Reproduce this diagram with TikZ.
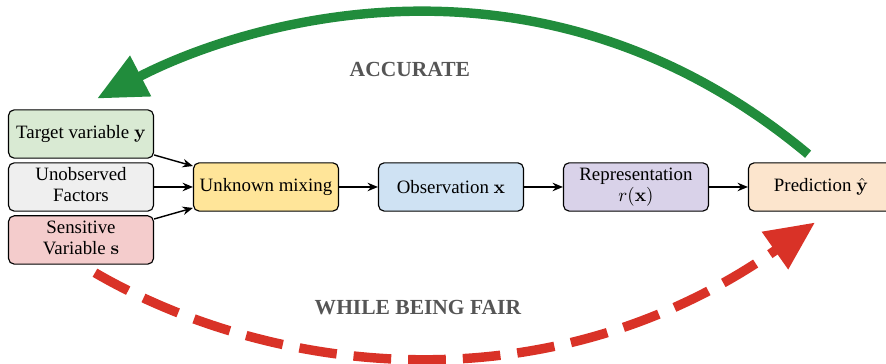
\documentclass[tikz,border=0pt]{standalone}
\usepackage[no-math]{fontspec}
\setmainfont{Liberation Serif}
\usetikzlibrary{arrows.meta,positioning}

\definecolor{targetfill}{HTML}{D9EAD3}
\definecolor{hiddenfill}{HTML}{EFEFEF}
\definecolor{sensitivefill}{HTML}{F4CCCC}
\definecolor{mixingfill}{HTML}{FFE599}
\definecolor{obsfill}{HTML}{CFE2F3}
\definecolor{reprfill}{HTML}{D9D2E9}
\definecolor{predfill}{HTML}{FCE5CD}
\definecolor{accgreen}{HTML}{218C3C}
\definecolor{fairred}{HTML}{D93227}
\definecolor{goalgray}{HTML}{555555}

\begin{document}
\begin{tikzpicture}[>={Stealth[length=5.5pt,width=4.5pt]}, node distance=3.446cm, on grid,
  box/.style={draw, line width=0.6pt, rounded corners=3pt, minimum width=2.7cm, minimum height=0.9cm, inner sep=0pt, font=\fontsize{10}{11}\selectfont},
  goal/.style={text=goalgray, font=\fontsize{11.4}{13}\selectfont\bfseries},
  bigtip/.style={-{Triangle[length=26pt,width=23pt]}, line width=5pt}]
  \useasboundingbox (-4.955,-3.297) rectangle (11.549,3.483);

  \node[box, fill=mixingfill] (mixing) {Unknown mixing};
  \node[box, fill=hiddenfill] (unobserved) [left=of mixing] {\begin{tabular}{c} Unobserved \\ Factors \end{tabular}};
  \node[box, fill=targetfill] (target) [above=0.987cm of unobserved] {Target variable $\mathbf{y}$};
  \node[box, fill=sensitivefill] (sensitive) [below=0.987cm of unobserved] {\begin{tabular}{c} Sensitive \\ Variable $\mathbf{s}$ \end{tabular}};
  \node[box, fill=obsfill] (observation) [right=of mixing] {Observation $\mathbf{x}$};
  \node[box, fill=reprfill] (representation) [right=of observation] {\begin{tabular}{c} Representation \\ $r(\mathbf{x})$ \end{tabular}};
  \node[box, fill=predfill] (prediction) [right=of representation] {Prediction $\hat{\mathbf{y}}$};

  \path[->, line width=0.75pt]
  ([yshift=2pt]target.south east) edge ([yshift=-2pt]mixing.north west)
  (unobserved) edge (mixing)
  ([yshift=-2pt]sensitive.north east) edge ([yshift=2pt]mixing.south west)
  (mixing) edge (observation)
  (observation) edge (representation)
  (representation) edge (prediction);

  % accuracy loop and fairness loop
  \coordinate (acc start) at ([shift={(-0.24,0.15)}]prediction.north);
  \coordinate (acc end) at ([shift={(0.30,0.20)}]target.north);
  \coordinate (fair start) at ([shift={(0.26,-0.15)}]sensitive.south);
  \coordinate (fair end) at ([shift={(-0.11,-0.20)}]prediction.south);

  \draw[bigtip, accgreen] (acc start) .. controls (5.03,4.84) and (-0.54,3.00) .. (acc end);
  \draw[bigtip, fairred, dash pattern=on 20pt off 9pt] (fair start) .. controls (0.04,-3.47) and (5.20,-4.19) .. (fair end);

  \node[goal] (accurate) at (2.68,2.18) {ACCURATE};
  \node[goal] (fair) at (2.83,-2.24) {WHILE BEING FAIR};
\end{tikzpicture}
\end{document}
